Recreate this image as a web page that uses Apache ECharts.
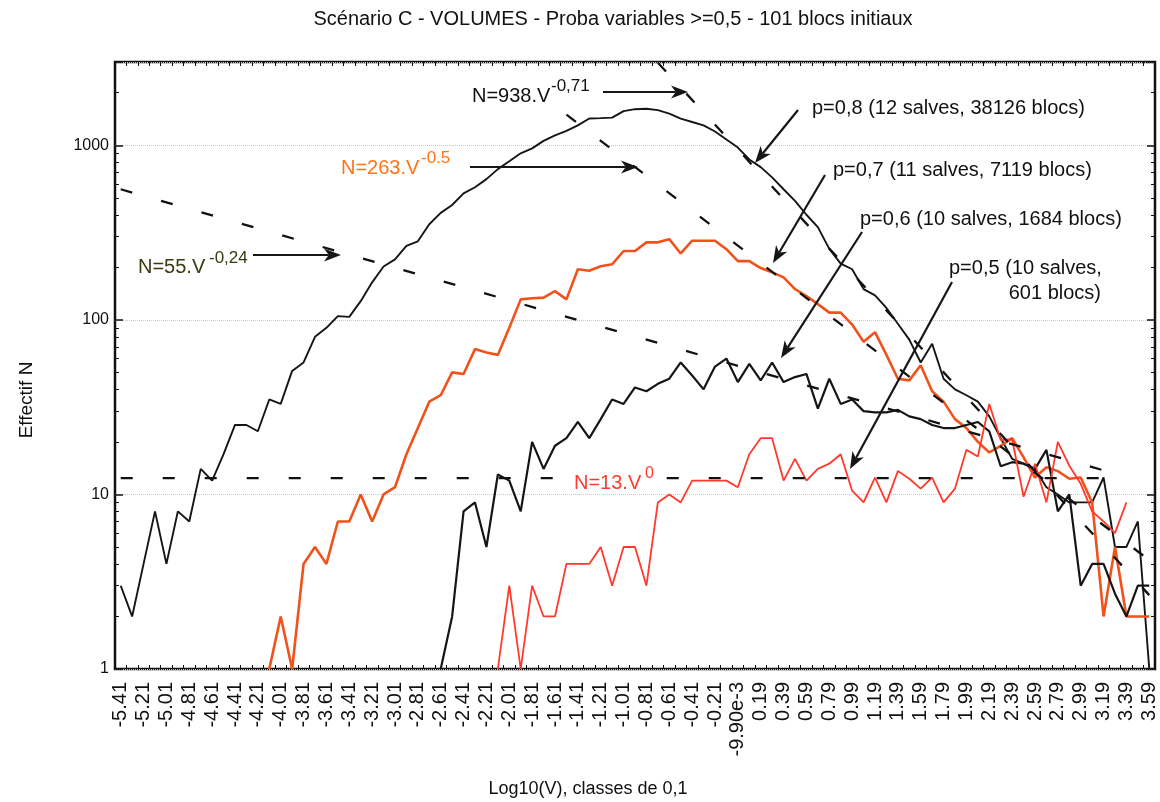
<!DOCTYPE html>
<html><head><meta charset="utf-8">
<script src="https://cdn.jsdelivr.net/npm/echarts@6/dist/echarts.min.js"></script>
<style>html,body{margin:0;padding:0;background:#fff}#c{width:1160px;height:802px}</style>
</head><body><div id="c"></div>
<script>
// ---- categories (classes of Log10(V), step 0.1) ----
const categories = ["-5.41","-5.31","-5.21","-5.11","-5.01","-4.91","-4.81","-4.71","-4.61","-4.51",
"-4.41","-4.31","-4.21","-4.11","-4.01","-3.91","-3.81","-3.71","-3.61","-3.51",
"-3.41","-3.31","-3.21","-3.11","-3.01","-2.91","-2.81","-2.71","-2.61","-2.51",
"-2.41","-2.31","-2.21","-2.11","-2.01","-1.91","-1.81","-1.71","-1.61","-1.51",
"-1.41","-1.31","-1.21","-1.11","-1.01","-0.91","-0.81","-0.71","-0.61","-0.51",
"-0.41","-0.31","-0.21","-0.11","-9.90e-3","0.09","0.19","0.29","0.39","0.49",
"0.59","0.69","0.79","0.89","0.99","1.09","1.19","1.29","1.39","1.49",
"1.59","1.69","1.79","1.89","1.99","2.09","2.19","2.29","2.39","2.49",
"2.59","2.69","2.79","2.89","2.99","3.09","3.19","3.29","3.39","3.49","3.59"];

// ---- series values (effectif N per class) ----
const p08 = [3,2,4,8,4,8,7,14,12,17,
25,25,23,35,33,51,57,80,90,105,
104,128,164,202,222,265,282,353,410,455,
530,575,640,730,810,900,960,1060,1140,1210,
1300,1425,1430,1440,1570,1610,1620,1590,1520,1420,
1360,1300,1200,1080,970,830,750,655,560,480,
400,340,255,210,195,150,138,117,95,77,
57,73,46,40,37,34,28,21,16,15,
14,11,10,9,9,9,12.5,5,5,7,1];

const p07 = [null,null,null,null,null,null,null,null,null,null,
null,null,null,1,2,1,4,5,4,7,
7,10,7,10,11,17,24,34,37,50,
49,68,65,63,90,131,133,134,146,131,
195,191,203,208,248,248,278,278,290,240,
284,284,284,254,217,217,198,187,175,150,
137,123,110,110,94,75,85,63,46,45,
55,39,34,27,24,20,17.4,19,21,16.3,
12.5,14.3,13.6,12.3,12.5,9,2,5,2,2,2];

const p06 = [null,null,null,null,null,null,null,null,null,null,
null,null,null,null,null,null,null,null,null,null,
null,null,null,null,null,null,null,null,1,2,
8,9,5,13,12,8,20,14,19,21,
26,21,27,35,33,41,39,43,46,57,
48,40,54,60,44,56,45,57,44,47,
49,31,46,33,35,30,29.5,29.5,30.5,28,
27,25,24,24,25,26,23,14.5,15.3,15,
14,18,8,10,3,4,4,2.7,2,3,3];

const p05 = [null,null,null,null,null,null,null,null,null,null,
null,null,null,null,null,null,null,null,null,null,
null,null,null,null,null,null,null,null,null,null,
null,null,null,1,3,1,3,2,2,4,
4,4,5,3,5,5,3,9,10,9,
12,12,12,12,11,17,21,21,12,16,
12,14,15,17,10.5,9,12.5,9,13.6,12.3,
10.8,12.5,9,10.8,18,16.5,33,20.5,20.7,9.7,
15,9,20,14.6,11.5,8,7,6,9,null,null];

// ---- fitted power laws (end points, straight on log-log) ----
const fit938 = [["-0.71", 2970], ["3.59", 2.65]];
const fit263 = [["-1.51", 1500], ["3.59", 4.2]];
const fit55  = [["-5.41", 560], ["3.39", 12.6]];
const fit13  = [["-5.41", 12.4], ["3.39", 12.4]];

// ---- y tick labels ----
const yTickLabels = ["1", "10", "100", "1000"];

const FONT = '"Liberation Sans", Arial, Helvetica, sans-serif';
const chart = echarts.init(document.getElementById('c'), null, {renderer: 'canvas'});

function isDecade(v) {
  const l = Math.log10(v);
  return Math.abs(l - Math.round(l)) < 1e-6;
}

const dash = [12, 30];
function fitSeries(data) {
  return {type: 'line', data: data, symbol: 'none', silent: true, z: 5,
    lineStyle: {color: '#111', width: 2.3, type: dash}};
}

function txt(x, y, text, size, fill, align, extra) {
  return Object.assign({type: 'text', x: x, y: y, z: 100, silent: true,
    style: {text: text, font: size + 'px ' + FONT, fill: fill || '#111',
      textAlign: align || 'left', textVerticalAlign: 'middle'}}, extra || {});
}
function arrow(x1, y1, x2, y2) {
  const dx = x2 - x1, dy = y2 - y1, L = Math.hypot(dx, dy);
  const ux = dx / L, uy = dy / L, nx = -uy, ny = ux;
  const hl = 17, hw = 6.5;
  const bx = x2 - ux * hl, by = y2 - uy * hl;
  const mx = x2 - ux * hl * 0.72, my = y2 - uy * hl * 0.72;
  return [
    {type: 'line', z: 100, silent: true, shape: {x1: x1, y1: y1, x2: mx, y2: my},
      style: {stroke: '#161616', lineWidth: 2.2}},
    {type: 'polygon', z: 100, silent: true,
      shape: {points: [[x2, y2], [bx + nx * hw, by + ny * hw], [mx, my], [bx - nx * hw, by - ny * hw]]},
      style: {fill: '#161616'}}
  ];
}

const ORANGE_TXT = '#ff7417';
const OLIVE = '#3a3a10';
const RED_TXT = '#ff3b30';

const graphics = [
  {type: 'rect', z: 99, silent: true, shape: {x: 571, y: 471, width: 88, height: 22}, style: {fill: '#fff'}},
  txt(613, 19, 'Scénario C - VOLUMES - Proba variables >=0,5 - 101 blocs initiaux', 20, '#111', 'center'),
  txt(27, 400, 'Effectif N', 19, '#111', 'center', {rotation: Math.PI / 2}),
  txt(588, 789, 'Log10(V), classes de 0,1', 18, '#111', 'center'),
  txt(472, 96, 'N=938.V', 20, '#111'),
  txt(551, 86, '-0,71', 17, '#111'),
  txt(341, 168, 'N=263.V', 20, ORANGE_TXT),
  txt(421, 158, '-0.5', 17, ORANGE_TXT),
  txt(138, 267, 'N=55.V', 20, OLIVE),
  txt(209, 258, '-0,24', 17, OLIVE),
  txt(574, 483, 'N=13.V', 20, RED_TXT),
  txt(645, 474, '0', 16, RED_TXT),
  txt(812, 108, 'p=0,8 (12 salves, 38126 blocs)', 20),
  txt(833, 170, 'p=0,7 (11 salves, 7119 blocs)', 20),
  txt(860, 219, 'p=0,6 (10 salves, 1684 blocs)', 20),
  txt(949, 268, 'p=0,5 (10 salves,', 20),
  txt(1101, 293, '601 blocs)', 20, '#111', 'right')
].concat(
  arrow(603, 92, 688, 92),
  arrow(470, 167, 638, 167),
  arrow(253, 255, 341, 255),
  arrow(798, 110, 755, 163),
  arrow(825, 175, 773, 263),
  arrow(862, 232, 781, 358),
  arrow(952, 282, 850, 469)
);

const yCommon = {
  type: 'log', logBase: 10, min: 1, max: 3000,
  axisLine: {show: false},
  axisTick: {show: true, inside: true, length: 8, lineStyle: {color: '#111', width: 1.5}},
  minorTick: {show: true, splitNumber: 9, length: 4, lineStyle: {color: '#111', width: 1}},
  splitLine: {show: false}
};

chart.setOption({
  animation: false,
  backgroundColor: '#fff',
  textStyle: {fontFamily: FONT},
  grid: {left: 115, top: 62, right: 5, bottom: 133, show: true,
    borderColor: '#111', borderWidth: 2.5, backgroundColor: 'transparent'},
  xAxis: [{
    type: 'category', data: categories, boundaryGap: true,
    axisLine: {show: false},
    axisTick: {show: true, inside: true, length: 4, interval: 0, lineStyle: {color: '#111', width: 1}},
    axisLabel: {interval: 1, rotate: 90, fontSize: 20, color: '#111', margin: 13, fontFamily: FONT},
    splitLine: {show: false}
  }, {
    type: 'category', data: categories, boundaryGap: true, position: 'top',
    axisLine: {show: false},
    axisTick: {show: true, inside: true, length: 4, interval: 0, lineStyle: {color: '#111', width: 1}},
    axisLabel: {show: false}, splitLine: {show: false}
  }],
  yAxis: [Object.assign({}, yCommon, {
    position: 'left',
    axisLabel: {fontSize: 16, color: '#111', margin: 6, fontFamily: FONT,
      formatter: function (v) {
        if (!isDecade(v)) return '';
        const s = String(Math.round(v));
        return yTickLabels.indexOf(s) >= 0 ? s : '';
      }},
    splitLine: {show: true, lineStyle: {color: '#c8c8c8', type: 'dotted', width: 1}}
  }), Object.assign({}, yCommon, {position: 'right', axisLabel: {show: false}})],
  graphic: graphics,
  series: [
    {name: 'p=0,8', type: 'line', data: p08, symbol: 'none', z: 3,
      lineStyle: {color: '#151515', width: 1.9}},
    {name: 'p=0,7', type: 'line', data: p07, symbol: 'none', z: 3,
      lineStyle: {color: '#f0521c', width: 2.6}},
    {name: 'p=0,6', type: 'line', data: p06, symbol: 'none', z: 3,
      lineStyle: {color: '#151515', width: 2.2}},
    {name: 'p=0,5', type: 'line', data: p05, symbol: 'none', z: 3,
      lineStyle: {color: '#ff3a2c', width: 1.8}},
    fitSeries(fit938),
    fitSeries(fit263),
    fitSeries(fit55),
    fitSeries(fit13)
  ]
});
</script>
</body></html>
